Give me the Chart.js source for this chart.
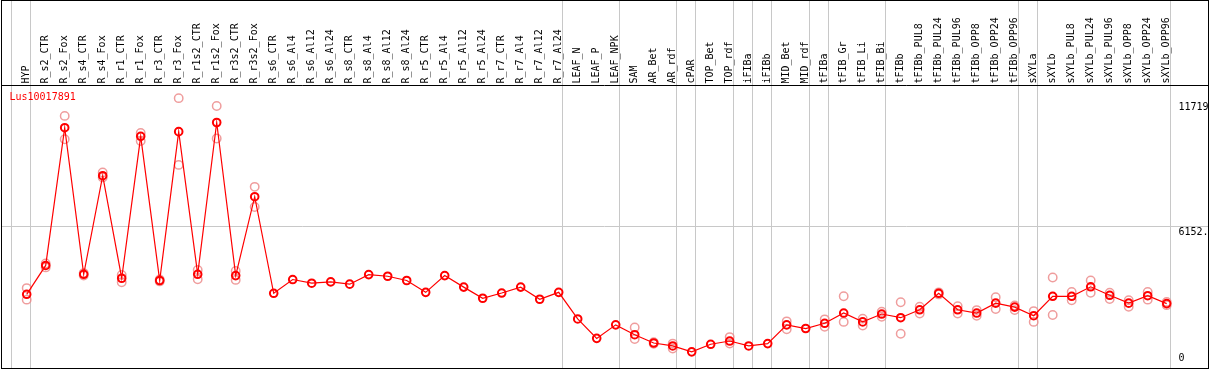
<!DOCTYPE html>
<html>
<head>
<meta charset="utf-8">
<script src="https://cdn.jsdelivr.net/npm/chart.js@4/dist/chart.umd.min.js"></script>
<style>
  body { margin: 0; background: #fff; }
  canvas { display: block; }
</style>
</head>
<body>
<canvas id="exprChart" width="1209" height="370"></canvas>
<script>
// gene shown in the plot
const geneName = 'Lus10017891';

// sample categories (left to right)
const categories = [
    'HYP', 'R_s2_CTR', 'R_s2_Fox', 'R_s4_CTR', 'R_s4_Fox', 'R_r1_CTR', 'R_r1_Fox',
    'R_r3_CTR', 'R_r3_Fox', 'R_r1s2_CTR', 'R_r1s2_Fox', 'R_r3s2_CTR', 'R_r3s2_Fox',
    'R_s6_CTR', 'R_s6_Al4', 'R_s6_Al12', 'R_s6_Al24', 'R_s8_CTR', 'R_s8_Al4', 'R_s8_Al12',
    'R_s8_Al24', 'R_r5_CTR', 'R_r5_Al4', 'R_r5_Al12', 'R_r5_Al24', 'R_r7_CTR', 'R_r7_Al4',
    'R_r7_Al12', 'R_r7_Al24', 'LEAF_N', 'LEAF_P', 'LEAF_NPK', 'SAM', 'AR_Bet', 'AR_rdf',
    'cPAR', 'TOP_Bet', 'TOP_rdf', 'iFIBa', 'iFIBb', 'MID_Bet', 'MID_rdf', 'tFIBa',
    'tFIB_Gr', 'tFIB_Li', 'tFIB_Bi', 'tFIBb', 'tFIBb_PUL8', 'tFIBb_PUL24', 'tFIBb_PUL96',
    'tFIBb_OPP8', 'tFIBb_OPP24', 'tFIBb_OPP96', 'sXYLa', 'sXYLb', 'sXYLb_PUL8',
    'sXYLb_PUL24', 'sXYLb_PUL96', 'sXYLb_OPP8', 'sXYLb_OPP24', 'sXYLb_OPP96'
];

// mean expression per sample
const means = [
    3113, 4403, 10554, 4007, 8410, 3831, 10171, 3729, 10378, 4007, 10787, 3949, 7472,
    3157, 3773, 3610, 3668, 3566, 3993, 3919, 3729, 3201, 3949, 3434, 2937, 3170, 3434, 2893, 3201,
    2012, 1145, 1748, 1308, 938, 806, 542, 881, 1026, 806, 911, 1748, 1585, 1818,
    2276, 1880, 2232, 2069, 2422, 3157, 2422, 2276, 2717, 2541,
    2157, 3025, 3025, 3448, 3069, 2717, 3051, 2699
];

// replicates (upper / lower), null where no separate replicate is visible
const repHigh = [
    3390, 4491, 11082, 4060, 8555, 3976, 10316, 3780, 11875, 4196, 11523, 4152, 7912,
    null, null, null, null, null, null, null, null, null, null, null, null, null, null, null, null,
    null, null, null, 1629, 970, 911, null, null, 1202, null, null, 1906, null, 1995,
    3025, 2025, 2334, 2761, 2554, 3200, 2585, 2408, 2981, 2611,
    2364, 3861, 3214, 3729, 3183, 2849, 3214, 2774
];
const repLow = [
    2875, 4315, 10039, 3950, 8335, 3654, 9964, 3690, 8894, 3787, 10070, 3756, 7014,
    null, null, null, null, null, null, null, null, null, null, null, null, null, null, null, null,
    null, null, null, 1114, 905, 691, null, null, 911, null, null, 1554, null, 1660,
    1880, 1717, 2113, 1352, 2259, 3110, 2259, 2157, 2452, 2408,
    1880, 2188, 2849, 3183, 2906, 2554, 2875, 2629
];

// right-hand value labels
const yTickValues = [0, 6152, 11719];
const yTickLabels = ['0', '6152.', '11719'];
const yMax = 12440;

// separator lines after these category indices
const groupBreaks = [-1, 0, 28, 31, 34, 35, 37, 38, 39, 41, 42, 45, 52, 53, 60];

const monoFont = "'DejaVu Sans Mono', monospace";

// frame, separators and labels
const framePlugin = {
    id: 'frame',
    beforeDatasetsDraw(chart) {
        const ctx = chart.ctx;
        const xs = chart.scales.x;
        const ys = chart.scales.y;
        ctx.save();
        ctx.strokeStyle = '#c8c8c8';
        ctx.lineWidth = 1;
        groupBreaks.forEach(i => {
            const x = Math.floor(xs.getPixelForValue(i) + 3.5) + 0.5;
            ctx.beginPath();
            ctx.moveTo(x, 0);
            ctx.lineTo(x, 369);
            ctx.stroke();
        });
        const midY = Math.floor(ys.getPixelForValue(yTickValues[1])) + 0.5;
        ctx.beginPath();
        ctx.moveTo(1, midY);
        ctx.lineTo(1208, midY);
        ctx.stroke();
        ctx.restore();
    },
    afterDraw(chart) {
        const ctx = chart.ctx;
        const ys = chart.scales.y;
        ctx.save();
        ctx.strokeStyle = '#000';
        ctx.lineWidth = 1;
        ctx.strokeRect(1.5, 0.5, 1207, 368);
        ctx.beginPath();
        ctx.moveTo(1, 85.5);
        ctx.lineTo(1208, 85.5);
        ctx.stroke();

        ctx.font = '10px ' + monoFont;
        ctx.fillStyle = '#000';
        ctx.textAlign = 'left';
        yTickValues.forEach((v, i) => {
            const y = ys.getPixelForValue(v);
            ctx.textBaseline = v === 0 ? 'bottom' : 'top';
            ctx.fillText(yTickLabels[i], 1178.5, v === 0 ? y - 1 : y + 1);
        });

        ctx.fillStyle = '#ff0000';
        ctx.textBaseline = 'middle';
        ctx.fillText(geneName, 9.5, 97);
        ctx.restore();
    }
};

const ctx = document.getElementById('exprChart').getContext('2d');
new Chart(ctx, {
    type: 'line',
    data: {
        labels: categories,
        datasets: [{
            label: 'mean',
            data: means,
            order: 0,
            borderColor: '#ff0000',
            borderWidth: 1.2,
            pointRadius: 3.8,
            pointBorderWidth: 2,
            pointBorderColor: '#ff0000',
            pointBackgroundColor: 'rgba(0,0,0,0)',
            tension: 0
        }, {
            label: 'rep1',
            data: repHigh,
            order: 1,
            showLine: false,
            pointRadius: 4.2,
            pointBorderWidth: 1.5,
            pointBorderColor: 'rgba(236,140,140,0.85)',
            pointBackgroundColor: 'rgba(0,0,0,0)'
        }, {
            label: 'rep2',
            data: repLow,
            order: 2,
            showLine: false,
            pointRadius: 4.2,
            pointBorderWidth: 1.5,
            pointBorderColor: 'rgba(236,140,140,0.85)',
            pointBackgroundColor: 'rgba(0,0,0,0)'
        }]
    },
    options: {
        responsive: false,
        animation: false,
        layout: {
            padding: { left: 17.2, right: 32.8, top: 0, bottom: 2 }
        },
        plugins: {
            legend: { display: false },
            tooltip: { enabled: false }
        },
        scales: {
            x: {
                position: 'top',
                offset: true,
                grid: { display: false, drawTicks: false },
                border: { display: false },
                ticks: {
                    autoSkip: false,
                    minRotation: 90,
                    maxRotation: 90,
                    padding: 2,
                    labelOffset: 12,
                    color: '#000',
                    font: { family: monoFont, size: 10 }
                },
                afterFit(scale) {
                    scale.height = 85.5;
                }
            },
            y: {
                display: false,
                min: 0,
                max: yMax
            }
        }
    },
    plugins: [framePlugin]
});
</script>
</body>
</html>
